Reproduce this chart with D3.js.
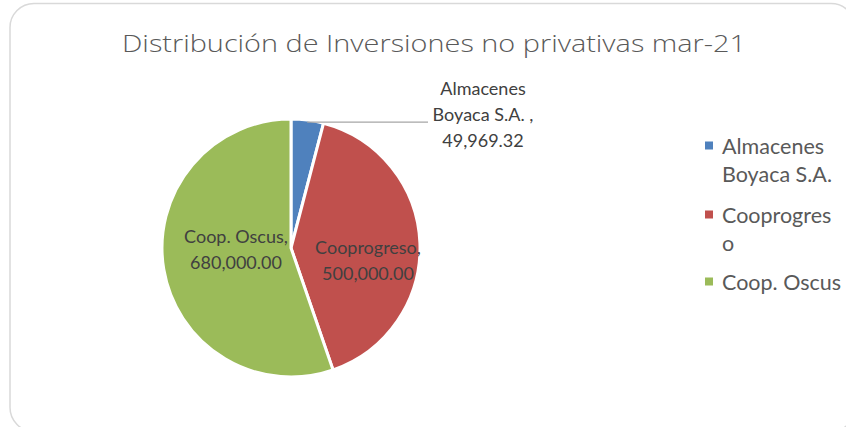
<!DOCTYPE html>
<html><head><meta charset="utf-8">
<script src="https://cdn.jsdelivr.net/npm/d3@7"></script>
<style>html,body{margin:0;padding:0;background:#fff;}svg{display:block;font-family:Lato,"Open Sans",sans-serif;}</style>
</head><body>
<svg id="c" width="846" height="427"></svg>
<script>
const title = "Distribución de Inversiones no privativas mar-21";
const categories = ["Almacenes Boyaca S.A.", "Cooprogreso", "Coop. Oscus"];
const values = [49969.32, 500000.00, 680000.00];
const colors = ["#4f81bd", "#c0504d", "#9bbb59"];
const legendLines = [["Almacenes", "Boyaca S.A."], ["Cooprogres", "o"], ["Coop. Oscus"]];

const svg = d3.select("#c");
const fmt = d3.format(",.2f");

// chart frame
svg.append("rect").attr("x", 10).attr("y", 3.5).attr("width", 845).attr("height", 428)
  .attr("rx", 24).attr("ry", 24).attr("fill", "#fff").attr("stroke", "#d9d9d9").attr("stroke-width", 1.5);

svg.append("text").attr("x", 434).attr("y", 52).attr("text-anchor", "middle")
  .attr("font-family", "'Open Sans', sans-serif").attr("font-weight", 300)
  .attr("font-size", 24.5).attr("fill", "#595959")
  .attr("textLength", 624).attr("lengthAdjust", "spacingAndGlyphs").text(title);

const cx = 291, cy = 248, R = 129;
const pie = d3.pie().sort(null).value(d => d)(values);
const arc = d3.arc().innerRadius(0).outerRadius(R);
const color = d3.scaleOrdinal().domain(categories).range(colors);

const g = svg.append("g").attr("transform", `translate(${cx},${cy})`);
g.selectAll("path").data(pie).join("path")
  .attr("d", arc).attr("fill", (d, i) => color(categories[i]))
  .attr("stroke", "#fff").attr("stroke-width", 3).attr("stroke-linejoin", "round");

// leader line for small slice
const a0 = pie[0];
const mid = (a0.startAngle + a0.endAngle) / 2;
const lx = Math.sin(mid) * (R - 2), ly = -Math.cos(mid) * (R - 2);
g.append("polyline").attr("points", `${lx},${ly} ${428 - cx},${ly}`)
  .attr("fill", "none").attr("stroke", "#a6a6a6").attr("stroke-width", 1.2);

const lab = svg.append("g").attr("fill", "#404040").attr("font-size", 18).attr("text-anchor", "middle");
const ext = [["Almacenes", "Boyaca S.A. ,", fmt(values[0])]];
ext[0].forEach((t, j) => lab.append("text").attr("x", 483).attr("y", 95 + j * 26).text(t));

const inner = [
  {i: 2, x: 236, y: 243},
  {i: 1, x: 368, y: 254}
];
inner.forEach(o => {
  lab.append("text").attr("x", o.x).attr("y", o.y).text(categories[o.i] + ",");
  lab.append("text").attr("x", o.x).attr("y", o.y + 26).text(fmt(values[o.i]));
});

// legend
const leg = svg.append("g").attr("font-size", 21.5).attr("fill", "#595959");
const legY = [146, 215, 282];
legendLines.forEach((lines, i) => {
  leg.append("rect").attr("x", 705).attr("y", legY[i] - 4.5).attr("width", 8).attr("height", 8).attr("fill", colors[i]);
  lines.forEach((t, j) => leg.append("text").attr("x", 722).attr("y", legY[i] + 7.5 + j * 28).text(t));
});
</script>
</body></html>
